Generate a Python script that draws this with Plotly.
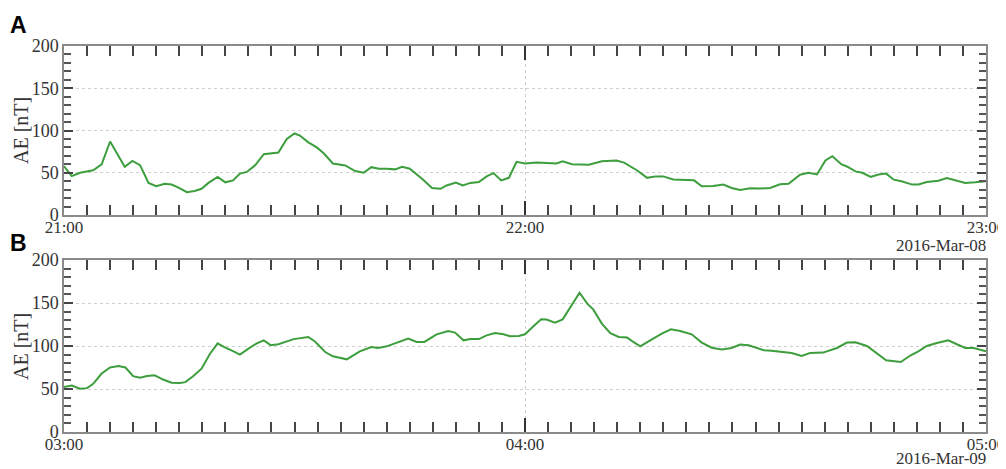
import plotly.graph_objects as go
import pandas as pd

# Panel A: 2016-03-08 21:00-23:00 (minutes after 21:00, AE nT)
minA = [0, 1, 2.1, 3.8, 4.9, 6, 7.9, 8.9, 9.9, 11, 12, 13.1, 14, 14.9, 16, 17, 17.9, 18.8, 20, 21,
        22, 22.9, 23.8, 24.9, 26, 27.9, 29, 30, 30.7, 31.8, 32.9, 33.8, 35, 36.6, 37.9, 39, 40, 41,
        42, 43.1, 44, 45, 46.6, 47.9, 49, 49.8, 51, 51.9, 52.9, 54, 55, 55.9, 56.9, 57.9, 58.9, 60,
        61.5, 63.3, 64.1, 64.9, 66.1, 68.3, 70, 71.9, 72.9, 74.6, 75.9, 77, 78, 79.3, 80.5, 82, 83,
        84.5, 85.8, 86.9, 88, 89.3, 90.6, 91.9, 93.2, 94.3, 95.8, 96.9, 98, 99.1, 100, 101.2, 101.9,
        103, 103.9, 105, 106, 107, 108, 109, 110.4, 111.2, 112.3, 113.8, 114.9, 116, 117.3, 118.6, 120]
aeA = [58, 46, 50, 53, 60, 87, 57, 64, 59, 38, 34, 37, 36, 32.5, 27, 28.5, 31, 38, 45, 38.7,
       41, 49, 51, 59, 72, 74, 90, 96.5, 94, 86, 80, 73, 61, 58.6, 52, 50, 56.6, 54.7,
       54.7, 54, 57, 54.7, 43, 32, 31, 35, 38.5, 35, 38, 39, 45.7, 49.6, 41, 44, 63, 61,
       62, 61, 61, 63.6, 60, 59.4, 63.6, 64.5, 62, 52.7, 44, 45.7, 45.7, 42, 41.5, 41, 34,
       34.3, 36, 32, 29.7, 31.7, 31.3, 32, 36.3, 37, 47.7, 50, 48, 64.5, 69.5, 59.8, 57.4,
       51.6, 50, 45, 48, 49, 41.8, 40, 36, 36, 39, 40.6, 43.7, 41, 38, 38.7, 40]

# Panel B: 2016-03-09 03:00-05:00
minB = [0, 1, 2.1, 3, 3.8, 4.9, 6, 7.1, 8, 9, 9.9, 10.8, 11.8, 12.9, 14, 15.1, 15.8, 16.8, 17.9, 19,
        20, 20.8, 22, 22.9, 24, 25.1, 26, 26.9, 27.9, 29.9, 31.8, 32.7, 34, 35, 36.8, 38.5, 40, 40.9,
        42, 43.3, 44.8, 45.9, 46.9, 48.5, 50, 50.9, 52, 52.9, 54, 55, 56.1, 57.2, 58.1, 59.2, 60,
        61.1, 62.1, 62.8, 63.9, 64.9, 66, 67.1, 68.1, 68.9, 70, 71.1, 72.2, 73.3, 74.1, 75, 76.3,
        77.8, 79, 80.2, 81.7, 83, 84.3, 85.6, 86.9, 88, 89.1, 91.1, 92.1, 93.7, 94.7, 96, 97.1,
        98.8, 100.6, 101.9, 103, 104.5, 105.8, 107, 108.9, 110.2, 111.2, 112.3, 113.6, 115.1,
        116.2, 117.3, 118.4, 120]
aeB = [52.3, 54, 50.4, 51, 56, 68, 75, 76.7, 75, 65, 63, 65, 66, 61, 57.4, 57, 58, 64.8, 73.7, 91,
       103, 99, 94, 90, 97, 103, 106.6, 101, 102, 108, 110.5, 105, 93, 88, 84.5, 93.8, 98.8, 97.7,
       99.6, 104, 108.6, 104.7, 104.7, 113.6, 117.4, 115.6, 106.6, 108, 108, 112.4, 115, 113.6, 111.3, 111.6, 113.6,
       123, 131, 130.7, 127.2, 131, 147.3, 162, 149.3, 142.3, 126, 115, 110.5, 109.8, 104.7, 99.6, 106.6,
       114.4, 119.4, 117.5, 113.6, 104, 98, 96, 97.7, 101.6, 100.8, 95, 94.6, 93, 91.9, 88.4, 91.9,
       92.3, 97.7, 104, 104.3, 100, 91, 83.4, 81.4, 89.2, 93.8, 100, 103.5, 106.6,
       102, 97.7, 97.7, 93.8]

startA = pd.Timestamp("2016-03-08 21:00")
startB = pd.Timestamp("2016-03-09 03:00")
tA = [startA + pd.Timedelta(minutes=m) for m in minA]
tB = [startB + pd.Timedelta(minutes=m) for m in minB]

GREEN = "#3d9e3d"
SERIF = "Liberation Serif"
OFF = 8                       # page body margin
W, H = 1006 - OFF, 469 - OFF  # figure size that fills the window


def px(x):
    return (x - OFF) / W


def py(y):
    return 1 - (y - OFF) / H


fig = go.Figure()
fig.add_trace(go.Scatter(x=tA, y=aeA, mode="lines", line=dict(color=GREEN, width=2),
                         xaxis="x", yaxis="y", showlegend=False))
fig.add_trace(go.Scatter(x=tB, y=aeB, mode="lines", line=dict(color=GREEN, width=2),
                         xaxis="x2", yaxis="y2", showlegend=False))

xdom = [px(64), px(986)]


def xax(rng, anchor):
    return dict(domain=xdom, range=rng, anchor=anchor, type="date", automargin=False,
                showline=True, linecolor="#8a8a8a", linewidth=1.5, mirror="ticks",
                ticks="inside", ticklen=14, tickwidth=1.5, tickcolor="#333",
                dtick=3600000, tickformat="%H:%M", ticklabeloverflow="allow",
                ticklabelstandoff=-4,
                showgrid=True, gridcolor="#cfcfcf", griddash="dot", gridwidth=1,
                minor=dict(dtick=180000, ticks="inside", ticklen=10, tickwidth=1.5,
                           tickcolor="#444", showgrid=False),
                tickfont=dict(family=SERIF, size=17, color="#333"), zeroline=False)


def yax(dom, anchor):
    return dict(domain=dom, range=[0, 200], anchor=anchor, automargin=False,
                showline=True, linecolor="#8a8a8a", linewidth=1.5, mirror="ticks",
                ticks="inside", ticklen=9, tickwidth=2, tickcolor="#444", dtick=50,
                showgrid=True, gridcolor="#cfcfcf", griddash="dot", gridwidth=1,
                minor=dict(dtick=10, ticks="inside", ticklen=7, tickwidth=1.5,
                           tickcolor="#555", showgrid=False),
                tickfont=dict(family=SERIF, size=18, color="#333"), zeroline=False)


fig.update_layout(
    width=W, height=H, margin=dict(l=0, r=0, t=0, b=0, autoexpand=False),
    paper_bgcolor="white", plot_bgcolor="white",
    xaxis=xax([startA, startA + pd.Timedelta(hours=2)], "y"),
    yaxis=yax([py(215), py(46)], "x"),
    xaxis2=xax([startB, startB + pd.Timedelta(hours=2)], "y2"),
    yaxis2=yax([py(432), py(260)], "x2"),
)

ann = []
for lab, ypx in (("A", 25), ("B", 243)):
    ann.append(dict(text="<b>" + lab + "</b>", x=px(18), y=py(ypx), xref="paper", yref="paper",
                    showarrow=False, xanchor="center", yanchor="middle",
                    font=dict(family="Liberation Sans", size=23, color="black")))
for ypx in (131, 347):
    ann.append(dict(text="AE [nT]", x=px(21), y=py(ypx), xref="paper", yref="paper",
                    showarrow=False, textangle=-90, xanchor="center", yanchor="middle",
                    font=dict(family=SERIF, size=20, color="#333")))
for lab, ypx in (("2016-Mar-08", 245), ("2016-Mar-09", 458)):
    ann.append(dict(text=lab, x=px(987), y=py(ypx), xref="paper", yref="paper",
                    showarrow=False, xanchor="right", yanchor="middle", borderpad=0,
                    font=dict(family=SERIF, size=17, color="#333")))
fig.update_layout(annotations=ann)

fig.write_html("out.html")
